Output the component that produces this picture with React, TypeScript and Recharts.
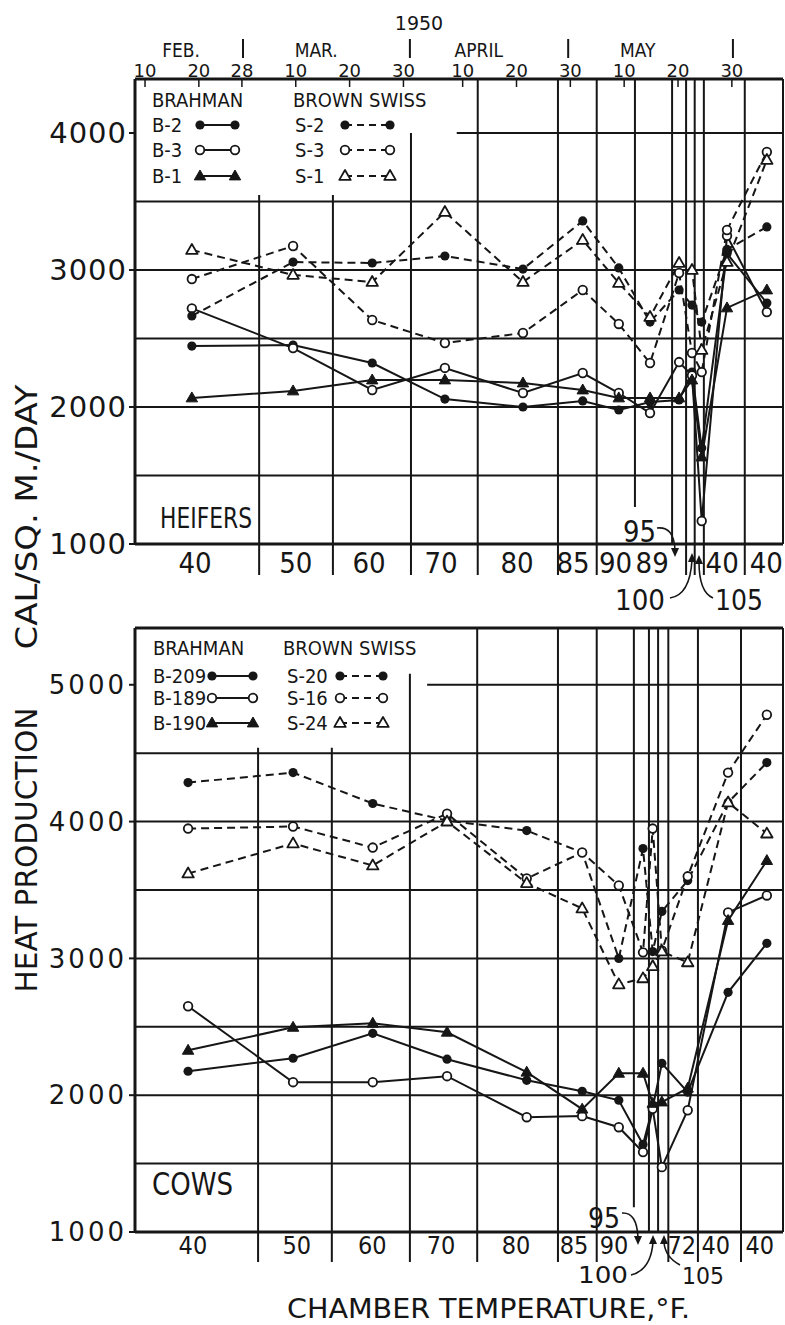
import React from "react";
import { LineChart, Line, XAxis, YAxis, ReferenceLine, Legend } from "recharts";

const INK = "#161616";
const NUM_FONT = "'DejaVu Sans', sans-serif";
const COND_FONT = "'DejaVu Sans Condensed', 'Liberation Sans Narrow', sans-serif";

// x is the day of 1950 counted from Jan 1 (Feb 10 = 41, May 30 = 150)
const xDomain: [number, number] = [39.14, 159.5];

const dateTicks = [41, 51, 59, 69, 79, 89, 100, 110, 120, 130, 140, 150];
const dateLabels = ["10", "20", "28", "10", "20", "30", "10", "20", "30", "10", "20", "30"];
const monthTicks = [47.7, 59.2, 72.8, 90.2, 103, 119.6, 132.5, 150.2];
const monthLabels = ["FEB.", "|", "MAR.", "|", "APRIL", "|", "MAY", "|"];

// ---- heifers ----
const heiferDays = [49.7, 68.5, 83.2, 96.7, 111.2, 122.3, 129, 134.8, 140.2, 142.6, 144.4, 149.1, 156.5];
const heiferB2 = [2445, 2452, 2321, 2058, 2000, 2044, 1978, 2036, 2051, 2255, 1700, 3120, 2759];
const heiferB3 = [2720, 2430, 2124, 2285, 2102, 2248, 2102, 1956, 2328, 2230, 1168, 3250, 2693];
const heiferB1 = [2066, 2117, 2197, 2197, 2175, 2124, 2066, 2066, 2066, 2197, 1635, 2723, 2854];
const heiferS2 = [2665, 3058, 3051, 3102, 3007, 3358, 3015, 2620, 2854, 2744, 2620, 3150, 3314];
const heiferS3 = [2934, 3175, 2635, 2467, 2540, 2854, 2606, 2321, 2978, 2394, 2255, 3292, 3861];
const heiferS1 = [3146, 2964, 2912, 3423, 2912, 3219, 2905, 2657, 3051, 3000, 2416, 3058, 3803];

const heiferTempTicks = [50.3, 69, 82.6, 96, 110.1, 120.5, 128.4, 135.2, 148.2, 156.4];
const heiferTempLabels = ["40", "50", "60", "70", "80", "85", "90", "89", "40", "40"];
const heiferYTicks = [1000, 2000, 3000, 4000];

// grid of the heifer panel (period boundaries in days, extents in cal)
const heiferHLines = [1500, 2000, 2500, 3000, 3500, 4000];
const heiferHFrom = [39.14, 39.14, 39.14, 39.14, 39.14, 98.9];
const heiferVLines = [62.2, 75.9, 90.4, 102.8, 117.7, 124.9, 132, 138.9, 141.5, 143.1, 144.8, 152.4, 159.5];
const heiferVTop = [3548, 3548, 4000, 4394, 4394, 4394, 4394, 4394, 4394, 4394, 4394, 4394, 4394];
const heiferVBottom = [773, 773, 773, 773, 773, 773, 1270, 1000, 773, 773, 773, 773, 1000];

// ---- cows ----
const cowDays = [49, 68.5, 83.3, 97.1, 111.9, 122.2, 129, 133.5, 135.3, 137, 141.8, 149.3, 156.5];
const cowB209 = [2175, 2270, 2452, 2263, 2109, 2029, 1963, 1640, 1910, 2233, 2022, 2752, 3110];
const cowB189 = [2650, 2095, 2095, 2139, 1839, 1847, 1766, 1584, 1900, 1474, 1890, 3336, 3460];
const cowB190 = [2328, 2496, 2526, 2460, 2168, 1898, 2160, 2160, 1940, 1950, 2051, 3277, 3715];
const cowS20 = [4285, 4358, 4132, 4007, 3934, 3774, 3000, 3803, 3050, 3343, 3569, 4140, 4431];
const cowS16 = [3949, 3964, 3810, 4058, 3584, 3774, 3533, 3044, 3949, 3058, 3600, 4358, 4781];
const cowS24 = [3620, 3840, 3679, 4000, 3550, 3365, 2810, 2854, 2942, 3050, 2971, 4140, 3912];

const cowTempTicks = [49.9, 69.2, 83.2, 96, 109.9, 120.7, 128.1, 140.7, 147, 155.2];
const cowTempLabels = ["40", "50", "60", "70", "80", "85", "90", "72", "40", "40"];
const cowYTicks = [1000, 2000, 3000, 4000, 5000];

const cowHLines = [1500, 2000, 2500, 3000, 3500, 4000, 4500, 5000, 5415];
const cowHFrom = [39.14, 39.14, 39.14, 39.14, 39.14, 39.14, 39.14, 93.4, 39.14];
const cowVLines = [62.0, 75.7, 90.2, 102.7, 117.7, 124.9, 131.8, 134.6, 136.3, 138.2, 143.7, 151.7, 159.5];
const cowVTop = [4540, 4540, 5080, 5415, 5415, 5415, 5415, 5415, 5415, 5415, 5415, 5415, 5415];
const cowVBottom = [781, 781, 781, 781, 781, 781, 1180, 1000, 1000, 781, 781, 781, 1000];

type Shape = "dot" | "ring" | "tri" | "opentri";
type Series = { key: string; name: string; shape: Shape; dashed: boolean; values: number[] };

const heiferSeries: Series[] = [
  { key: "b2", name: "B-2", shape: "dot", dashed: false, values: heiferB2 },
  { key: "b3", name: "B-3", shape: "ring", dashed: false, values: heiferB3 },
  { key: "b1", name: "B-1", shape: "tri", dashed: false, values: heiferB1 },
  { key: "s2", name: "S-2", shape: "dot", dashed: true, values: heiferS2 },
  { key: "s3", name: "S-3", shape: "ring", dashed: true, values: heiferS3 },
  { key: "s1", name: "S-1", shape: "opentri", dashed: true, values: heiferS1 },
];

const cowSeries: Series[] = [
  { key: "b209", name: "B-209", shape: "dot", dashed: false, values: cowB209 },
  { key: "b189", name: "B-189", shape: "ring", dashed: false, values: cowB189 },
  { key: "b190", name: "B-190", shape: "tri", dashed: false, values: cowB190 },
  { key: "s20", name: "S-20", shape: "dot", dashed: true, values: cowS20 },
  { key: "s16", name: "S-16", shape: "ring", dashed: true, values: cowS16 },
  { key: "s24", name: "S-24", shape: "opentri", dashed: true, values: cowS24 },
];

const nearest = (arr: number[], v: number) => {
  let best = 0;
  arr.forEach((a, i) => {
    if (Math.abs(a - v) < Math.abs(arr[best] - v)) best = i;
  });
  return best;
};

function Marker({ shape, cx, cy }: { shape: Shape; cx: number; cy: number }) {
  if (shape === "dot") return <circle cx={cx} cy={cy} r={4.6} fill={INK} />;
  if (shape === "ring") return <circle cx={cx} cy={cy} r={4.3} fill="#fff" stroke={INK} strokeWidth={1.8} />;
  const s = 6;
  const pts = `${cx},${cy - s} ${cx - s * 0.95},${cy + s * 0.65} ${cx + s * 0.95},${cy + s * 0.65}`;
  if (shape === "tri") return <polygon points={pts} fill={INK} stroke={INK} strokeWidth={1} strokeLinejoin="round" />;
  return <polygon points={pts} fill="#fff" stroke={INK} strokeWidth={1.8} strokeLinejoin="round" />;
}

const renderDateTick = (p: any) => {
  const i = nearest(dateTicks, p.payload.value);
  return (
    <g key={`date-${i}`}>
      <text x={p.x} y={p.y - 2} textAnchor="middle" fontSize={18} fontFamily={NUM_FONT} fill={INK}>
        {dateLabels[i]}
      </text>
      <line x1={p.x} x2={p.x} y1={p.y} y2={p.y + 8} stroke={INK} strokeWidth={1.5} />
    </g>
  );
};

const renderMonthTick = (p: any) => {
  const i = nearest(monthTicks, p.payload.value);
  if (monthLabels[i] === "|") {
    return <line key={`m-${i}`} x1={p.x} x2={p.x} y1={p.y - 18} y2={p.y + 1} stroke={INK} strokeWidth={2} />;
  }
  return (
    <text key={`m-${i}`} x={p.x} y={p.y} textAnchor="middle" fontSize={19} fontFamily={COND_FONT} fill={INK}>
      {monthLabels[i]}
    </text>
  );
};

type LegendLayout = {
  headY: number;
  rowY: number[];
  bText: number;
  bM: [number, number];
  sHead: number;
  sText: number;
  sM: [number, number];
  font: number;
};

function LegendBox({ series, layout }: { series: Series[]; layout: LegendLayout }) {
  const brahman = series.filter((s) => !s.dashed);
  const swiss = series.filter((s) => s.dashed);
  const row = (s: Series, i: number, tx: number, m: [number, number]) => {
    const y = layout.rowY[i];
    const my = y - 7;
    return (
      <g key={s.key}>
        <text x={tx} y={y} fontSize={layout.font} fontFamily={COND_FONT} fill={INK}>
          {s.name}
        </text>
        <line
          x1={m[0]}
          x2={m[1]}
          y1={my}
          y2={my}
          stroke={INK}
          strokeWidth={2.2}
          strokeDasharray={s.dashed ? "7 5" : undefined}
        />
        <Marker shape={s.shape} cx={m[0]} cy={my} />
        <Marker shape={s.shape} cx={m[1]} cy={my} />
      </g>
    );
  };
  return (
    <svg width={330} height={120} style={{ display: "block" }}>
      <text x={layout.bText} y={layout.headY} fontSize={layout.font} fontFamily={COND_FONT} fill={INK}>
        BRAHMAN
      </text>
      <text x={layout.sHead} y={layout.headY} fontSize={layout.font} fontFamily={COND_FONT} fill={INK}>
        BROWN SWISS
      </text>
      {brahman.map((s, i) => row(s, i, layout.bText, layout.bM))}
      {swiss.map((s, i) => row(s, i, layout.sText, layout.sM))}
    </svg>
  );
}

type PanelProps = {
  height: number;
  marginTop: number;
  dateAxis: boolean;
  days: number[];
  series: Series[];
  yDomain: [number, number];
  yTicks: number[];
  yFont: number;
  yLetter: number;
  tempTicks: number[];
  tempLabels: string[];
  tempFont: number;
  tempDrop: number;
  tempHeight: number;
  hLines: number[];
  hFrom: number[];
  vLines: number[];
  vTop: number[];
  vBottom: number[];
  legendTop: number;
  legendLayout: LegendLayout;
};

function Panel(props: PanelProps) {
  const { series, days } = props;
  const data = days.map((day, i) => {
    const row: Record<string, number> = { day };
    series.forEach((s) => {
      row[s.key] = s.values[i];
    });
    return row;
  });

  const renderTempTick = (p: any) => {
    const i = nearest(props.tempTicks, p.payload.value);
    return (
      <text
        key={`t-${i}`}
        x={p.x}
        y={p.y + props.tempDrop}
        textAnchor="middle"
        fontSize={props.tempFont}
        fontFamily={COND_FONT}
        fill={INK}
      >
        {props.tempLabels[i]}
      </text>
    );
  };

  return (
    <LineChart
      width={785}
      height={props.height}
      data={data}
      margin={{ top: props.marginTop, right: 2, bottom: 0, left: 0 }}
    >
      {props.dateAxis && (
        <XAxis
          xAxisId="date"
          orientation="top"
          type="number"
          dataKey="day"
          domain={xDomain}
          allowDataOverflow
          ticks={dateTicks}
          interval={0}
          height={22}
          tickSize={0}
          tickMargin={0}
          axisLine={{ stroke: INK, strokeWidth: 3 }}
          tickLine={false}
          tick={renderDateTick}
        />
      )}
      {props.dateAxis && (
        <XAxis
          xAxisId="month"
          orientation="top"
          type="number"
          dataKey="day"
          domain={xDomain}
          allowDataOverflow
          ticks={monthTicks}
          interval={0}
          height={57}
          tickSize={0}
          tickMargin={0}
          axisLine={false}
          tickLine={false}
          tick={renderMonthTick}
        />
      )}
      <XAxis
        xAxisId="temp"
        orientation="bottom"
        type="number"
        dataKey="day"
        domain={xDomain}
        allowDataOverflow
        ticks={props.tempTicks}
        interval={0}
        height={props.tempHeight}
        tickSize={0}
        tickMargin={0}
        axisLine={{ stroke: INK, strokeWidth: 3 }}
        tickLine={false}
        tick={renderTempTick}
      />
      <YAxis
        type="number"
        domain={props.yDomain}
        allowDataOverflow
        ticks={props.yTicks}
        interval={0}
        width={135}
        tickSize={6}
        tickMargin={2}
        axisLine={{ stroke: INK, strokeWidth: 3 }}
        tickLine={{ stroke: INK, strokeWidth: 2 }}
        tick={{ fontSize: props.yFont, fill: INK, fontFamily: NUM_FONT, letterSpacing: props.yLetter }}
      />

      {props.hLines.map((v, i) => (
        <ReferenceLine
          key={`h-${i}`}
          xAxisId="temp"
          segment={[
            { x: props.hFrom[i], y: v },
            { x: xDomain[1], y: v },
          ]}
          stroke={INK}
          strokeWidth={v > 5000 ? 3 : 2}
          ifOverflow="visible"
        />
      ))}
      {props.vLines.map((d, i) => (
        <ReferenceLine
          key={`v-${i}`}
          xAxisId="temp"
          segment={[
            { x: d, y: props.vTop[i] },
            { x: d, y: props.vBottom[i] },
          ]}
          stroke={INK}
          strokeWidth={2}
          ifOverflow="visible"
        />
      ))}

      {series.map((s) => (
        <Line
          key={s.key}
          xAxisId="temp"
          type="linear"
          dataKey={s.key}
          name={s.name}
          stroke={INK}
          strokeWidth={2}
          strokeDasharray={s.dashed ? "8 5" : undefined}
          isAnimationActive={false}
          activeDot={false}
          dot={(p: any) => <Marker key={`${s.key}-${p.index}`} shape={s.shape} cx={p.cx} cy={p.cy} />}
        />
      ))}

      <Legend
        layout="vertical"
        align="center"
        verticalAlign="middle"
        width={330}
        height={120}
        wrapperStyle={{ top: props.legendTop, left: 137, width: 330, height: 120 }}
        content={() => <LegendBox series={series} layout={props.legendLayout} />}
      />
    </LineChart>
  );
}

function Overlay() {
  const t = { fill: INK, fontFamily: COND_FONT };
  const arrow = { fill: "none", stroke: INK, strokeWidth: 1.6 };
  return (
    <svg
      width={785}
      height={1325}
      style={{ position: "absolute", left: 0, top: 0, pointerEvents: "none" }}
    >
      <text x={419} y={30} textAnchor="middle" fontSize={19} fontFamily={NUM_FONT} fill={INK}>
        1950
      </text>
      <text
        transform="translate(37,850) rotate(-90)"
        textAnchor="middle"
        fontSize={31}
        textLength={285}
        lengthAdjust="spacingAndGlyphs"
        {...t}
      >
        HEAT PRODUCTION
      </text>
      <text
        transform="translate(37,517) rotate(-90)"
        textAnchor="middle"
        fontSize={31}
        textLength={265}
        lengthAdjust="spacingAndGlyphs"
        {...t}
      >
        CAL/SQ. M./DAY
      </text>
      <text x={160} y={528} fontSize={28} textLength={92} lengthAdjust="spacingAndGlyphs" {...t}>
        HEIFERS
      </text>
      <text x={152} y={1195} fontSize={32} textLength={81} lengthAdjust="spacingAndGlyphs" {...t}>
        COWS
      </text>
      <text x={287} y={1318} fontSize={27} textLength={403} lengthAdjust="spacingAndGlyphs" {...t}>
        CHAMBER TEMPERATURE,°F.
      </text>

      {/* heifer period annotations */}
      <text x={623} y={542} fontSize={30} textLength={33} lengthAdjust="spacingAndGlyphs" {...t}>95</text>
      <path d="M657,528 Q674,526 675,550" {...arrow} />
      <polygon points="671,548 679,548 675,557" fill={INK} />
      <text x={615} y={610} fontSize={29} textLength={50} lengthAdjust="spacingAndGlyphs" {...t}>100</text>
      <path d="M670,598 Q690,595 692,560" {...arrow} />
      <polygon points="688,562 696,562 692,553" fill={INK} />
      <text x={715} y={610} fontSize={29} textLength={48} lengthAdjust="spacingAndGlyphs" {...t}>105</text>
      <path d="M713,598 Q699,592 699,562" {...arrow} />
      <polygon points="695,564 703,564 699,555" fill={INK} />

      {/* cow period annotations */}
      <text x={588} y={1228} fontSize={28} textLength={32} lengthAdjust="spacingAndGlyphs" {...t}>95</text>
      <path d="M622,1213 Q637,1212 638,1238" {...arrow} />
      <polygon points="634,1236 642,1236 638,1245" fill={INK} />
      <text x={578} y={1283} fontSize={23} textLength={50} lengthAdjust="spacingAndGlyphs" {...t}>100</text>
      <path d="M631,1275 Q651,1270 653,1242" {...arrow} />
      <polygon points="649,1244 657,1244 653,1235" fill={INK} />
      <text x={682} y={1284} fontSize={23} textLength={42} lengthAdjust="spacingAndGlyphs" {...t}>105</text>
      <path d="M680,1265 Q665,1257 664,1242" {...arrow} />
      <polygon points="660,1244 668,1244 664,1235" fill={INK} />
    </svg>
  );
}

export default function App() {
  return (
    <div
      style={{
        position: "absolute",
        left: 0,
        top: 0,
        width: 785,
        height: 1325,
        background: "#fff",
        fontFamily: NUM_FONT,
        overflow: "hidden",
      }}
    >
      <div style={{ position: "absolute", left: 0, top: 0 }}>
        <Panel
          height={600}
          marginTop={0}
          dateAxis
          days={heiferDays}
          series={heiferSeries}
          yDomain={[1000, 4394]}
          yTicks={heiferYTicks}
          yFont={29}
          yLetter={1}
          tempTicks={heiferTempTicks}
          tempLabels={heiferTempLabels}
          tempFont={29}
          tempDrop={29}
          tempHeight={56}
          hLines={heiferHLines}
          hFrom={heiferHFrom}
          vLines={heiferVLines}
          vTop={heiferVTop}
          vBottom={heiferVBottom}
          legendTop={80}
          legendLayout={{
            headY: 27,
            rowY: [52, 77, 103],
            bText: 15,
            bM: [63, 98],
            sHead: 156,
            sText: 158,
            sM: [208, 253],
            font: 20,
          }}
        />
      </div>
      <div style={{ position: "absolute", left: 0, top: 600 }}>
        <Panel
          height={725}
          marginTop={28}
          dateAxis={false}
          days={cowDays}
          series={cowSeries}
          yDomain={[1000, 5415]}
          yTicks={cowYTicks}
          yFont={26}
          yLetter={3}
          tempTicks={cowTempTicks}
          tempLabels={cowTempLabels}
          tempFont={25}
          tempDrop={22}
          tempHeight={93}
          hLines={cowHLines}
          hFrom={cowHFrom}
          vLines={cowVLines}
          vTop={cowVTop}
          vBottom={cowVBottom}
          legendTop={30}
          legendLayout={{
            headY: 25,
            rowY: [53, 75, 100],
            bText: 16,
            bM: [75, 116],
            sHead: 146,
            sText: 150,
            sM: [203, 246],
            font: 20,
          }}
        />
      </div>
      <Overlay />
    </div>
  );
}
